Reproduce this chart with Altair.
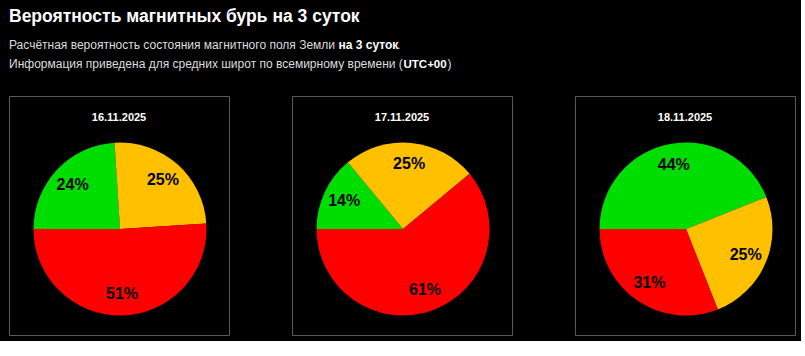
import math
import altair as alt
import pandas as pd

# ---- data ----
dates = ["16.11.2025", "17.11.2025", "18.11.2025"]
levels = ["green", "yellow", "red"]
green_vals = [24, 14, 44]
yellow_vals = [25, 25, 25]
red_vals = [51, 61, 31]

title_text = "Вероятность магнитных бурь на 3 суток"
line1_regular = "Расчётная вероятность состояния магнитного поля Земли"
line1_bold = "на 3 суток"
line1_tail = "."
line2_regular = "Информация приведена для средних широт по всемирному времени ("
line2_bold = "UTC+00"
line2_tail = ")"

level_colors = ["#00dd00", "#ffc000", "#ff0000"]

rows = []
for i, d in enumerate(dates):
    for k, (lvl, vals) in enumerate(zip(levels, [green_vals, yellow_vals, red_vals])):
        rows.append({"date": d, "level": lvl, "order": k, "value": vals[i],
                     "label": f"{vals[i]}%"})
df = pd.DataFrame(rows)

FONT = "Liberation Sans"
PANEL_W, PANEL_H = 220, 239
CX, CY, R = 111, 133, 86.5


def text_chart(txt, x, y, size, weight, color):
    return alt.Chart(pd.DataFrame({"t": [txt]})).mark_text(
        align="left", baseline="alphabetic", fontSize=size, fontWeight=weight,
        color=color, font=FONT
    ).encode(text="t:N", x=alt.value(x), y=alt.value(y))


header = alt.layer(
    text_chart(title_text, 0, 21, 17.5, "bold", "white"),
    text_chart(line1_regular, 0, 48, 12, "normal", "#dddddd"),
    text_chart(line1_bold, 329.5, 48, 12, "bold", "white"),
    text_chart(line1_tail, 388, 48, 12, "normal", "#dddddd"),
    text_chart(line2_regular, 0, 67, 12, "normal", "#dddddd"),
    text_chart(line2_bold, 394.5, 67, 11.5, "bold", "white"),
    text_chart(line2_tail, 438.5, 67, 12, "normal", "#dddddd"),
).properties(width=785, height=86, view=alt.ViewBackground(stroke="transparent"))

theta = alt.Theta("value:Q", stack=True,
                  scale=alt.Scale(range=[-math.pi / 2, 3 * math.pi / 2]))
color = alt.Color("level:N", scale=alt.Scale(domain=levels, range=level_colors),
                  legend=None)


def panel(d):
    base = alt.Chart(df).transform_filter(alt.datum.date == d)
    pie = base.mark_arc(outerRadius=R).encode(
        theta=theta, color=color, order=alt.Order("order:Q"),
        x=alt.value(CX), y=alt.value(CY))
    labels = base.mark_text(radius=65, fontSize=16, fontWeight="bold",
                            color="black", font=FONT, baseline="middle").encode(
        theta=theta, text="label:N", order=alt.Order("order:Q"),
        x=alt.value(CX), y=alt.value(CY))
    ttl = alt.Chart(pd.DataFrame({"date": [d]})).mark_text(
        fontSize=11, fontWeight="bold", color="white", font=FONT,
        baseline="alphabetic").encode(text="date:N", x=alt.value(110),
                                      y=alt.value(25))
    return alt.layer(pie, labels, ttl).properties(width=PANEL_W, height=PANEL_H)


panels = alt.hconcat(*[panel(d) for d in dates], spacing=61)

chart = alt.vconcat(header, panels, spacing=7).properties(
    padding={"left": 8, "top": 0, "right": 5, "bottom": 5},
    background="black",
).configure_view(stroke="#5a5a5a", strokeWidth=1).resolve_scale(theta="independent")

chart.save("out.html", embed_options={"renderer": "svg", "actions": False})
